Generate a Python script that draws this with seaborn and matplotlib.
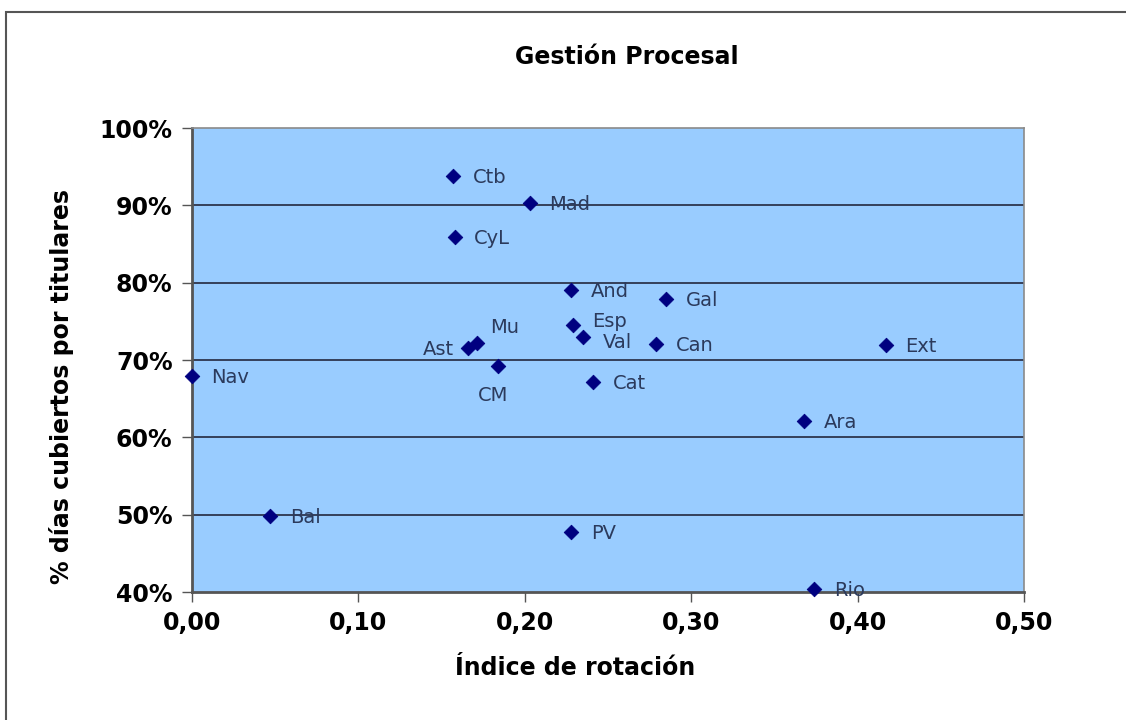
import numpy as np
import pandas as pd
import matplotlib
matplotlib.use("Agg")
import matplotlib.pyplot as plt
import seaborn as sns
from matplotlib.patches import Rectangle

# --- Datos ---
regiones = ['Ctb', 'Mad', 'CyL', 'And', 'Gal', 'Esp', 'Val', 'Can', 'Ext',
            'Mu', 'Ast', 'CM', 'Nav', 'Cat', 'Ara', 'Bal', 'PV', 'Rio']
rotacion = [0.157, 0.203, 0.158, 0.228, 0.285, 0.229, 0.235, 0.279, 0.417,
            0.171, 0.166, 0.184, 0.000, 0.241, 0.368, 0.047, 0.228, 0.374]
cubiertos = [0.938, 0.903, 0.859, 0.790, 0.779, 0.745, 0.730, 0.721, 0.719,
             0.722, 0.716, 0.692, 0.679, 0.672, 0.621, 0.498, 0.478, 0.404]
xticks = [0.0, 0.1, 0.2, 0.3, 0.4, 0.5]
yticks = [0.4, 0.5, 0.6, 0.7, 0.8, 0.9, 1.0]

df = pd.DataFrame({'region': regiones, 'rotacion': rotacion, 'cubiertos': cubiertos})

# desplazamiento de etiquetas (puntos) y alineación
offsets = {'Mu': (20, 11, 'center'), 'Ast': (-10, -1, 'right'), 'CM': (-4, -21, 'center'),
           'Esp': (14, 3, 'left'), 'Val': (14, -4, 'left')}

sns.set_style("white")
plt.rcParams['font.family'] = ['DejaVu Sans']
plt.rcParams['text.color'] = 'black'

fig = plt.figure(figsize=(11.26, 7.2), dpi=100)
ax = fig.add_axes([192/1126, 1 - 592/720, (1024 - 192)/1126, (592 - 128)/720])
ax.set_facecolor('#99CCFF')

for y in yticks[1:-1]:
    ax.axhline(y, color='#1a1a2e', linewidth=1.1, zorder=1)

sns.scatterplot(data=df, x='rotacion', y='cubiertos', marker='D', s=55,
                color='#000080', edgecolor='#000080', ax=ax, zorder=3, clip_on=False)

for r, x, y in zip(regiones, rotacion, cubiertos):
    dx, dy, ha = offsets.get(r, (14, -1, 'left'))
    ax.annotate(r, (x, y), xytext=(dx, dy), textcoords='offset points',
                ha=ha, va='center', fontsize=14, color='#2b3a5c', zorder=4)

ax.set_xlim(0, 0.5)
ax.set_ylim(0.4, 1.0)
ax.set_xticks(xticks)
ax.set_yticks(yticks)
ax.set_xticklabels([f'{v:.2f}'.replace('.', ',') for v in xticks])
ax.set_yticklabels([f'{v*100:.0f}%' for v in yticks])
ax.tick_params(axis='both', which='major', direction='out', length=7, width=1,
               color='#555555', labelsize=17, labelcolor='black', pad=7,
               bottom=True, left=True)
for lab in ax.get_xticklabels() + ax.get_yticklabels():
    lab.set_fontweight('bold')
ax.set_xlabel('')
ax.set_ylabel('')
for side in ['left', 'bottom']:
    ax.spines[side].set_color('#555555')
    ax.spines[side].set_linewidth(2)
for side in ['top', 'right']:
    ax.spines[side].set_color('#8a8a8a')
    ax.spines[side].set_linewidth(1.2)

fig.text(627/1126, 1 - 57/720, 'Gestión Procesal', ha='center', va='center',
         fontsize=17, fontweight='bold')
fig.text(575/1126, 1 - 668/720, 'Índice de rotación', ha='center', va='center',
         fontsize=17, fontweight='bold')
fig.text(62/1126, 1 - 386/720, '% días cubiertos por titulares', ha='center', va='center',
         rotation=90, fontsize=17, fontweight='bold')

fig.patches.append(Rectangle((6/1126, -0.05), 1.1, 1 - 12/720 + 0.05, transform=fig.transFigure,
                             fill=False, edgecolor='#555555', linewidth=1.5))

plt.savefig('out.png', dpi=100)
plt.close()
